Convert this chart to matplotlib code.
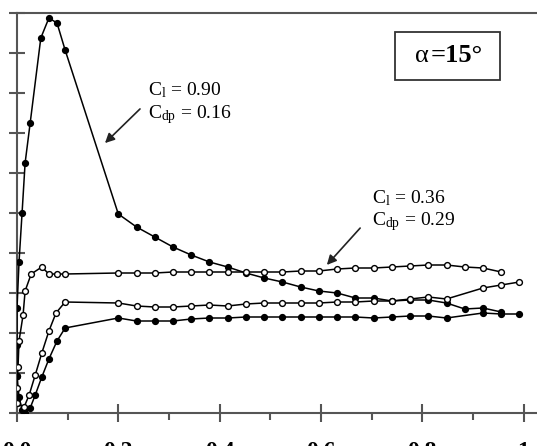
import matplotlib
matplotlib.use("Agg")
import matplotlib.pyplot as plt
from matplotlib.patches import Rectangle

# ---- data (x/c, suction value in tick units) ----
up090_x = [0.0, 0.0, 0.0, 0.004, 0.010, 0.016, 0.026, 0.047, 0.063, 0.079, 0.095,
           0.200, 0.236, 0.272, 0.308, 0.344, 0.380, 0.416, 0.452, 0.488, 0.524,
           0.560, 0.596, 0.632, 0.668, 0.704, 0.740, 0.776, 0.812, 0.848, 0.884,
           0.920, 0.956]
up090_y = [0.925, 1.70, 2.625, 3.775, 5.00, 6.25, 7.25, 9.375, 9.875, 9.75, 9.075,
           4.975, 4.65, 4.40, 4.15, 3.95, 3.775, 3.65, 3.50, 3.375, 3.275,
           3.15, 3.05, 3.00, 2.875, 2.875, 2.80, 2.825, 2.825, 2.75, 2.60,
           2.625, 2.525]

lo090_x = [0.0, 0.004, 0.010, 0.016, 0.026, 0.036, 0.049, 0.063, 0.079, 0.095,
           0.200, 0.236, 0.272, 0.308, 0.344, 0.380, 0.416, 0.452, 0.488, 0.524,
           0.560, 0.596, 0.632, 0.668, 0.704, 0.740, 0.776, 0.812, 0.848,
           0.920, 0.956, 0.992]
lo090_y = [0.925, 0.40, 0.075, 0.0, 0.125, 0.45, 0.90, 1.35, 1.80, 2.125,
           2.375, 2.30, 2.30, 2.30, 2.35, 2.375, 2.375, 2.40, 2.40, 2.40,
           2.40, 2.40, 2.40, 2.40, 2.375, 2.40, 2.425, 2.425, 2.375,
           2.50, 2.475, 2.475]

up036_x = [0.0, 0.0, 0.002, 0.004, 0.012, 0.016, 0.028, 0.049, 0.063, 0.079, 0.095,
           0.200, 0.236, 0.272, 0.308, 0.344, 0.380, 0.416, 0.452, 0.488, 0.524,
           0.560, 0.596, 0.632, 0.668, 0.704, 0.740, 0.776, 0.812, 0.848, 0.884,
           0.920, 0.956]
up036_y = [0.25, 0.625, 1.15, 1.80, 2.45, 3.05, 3.475, 3.65, 3.475, 3.475, 3.475,
           3.50, 3.50, 3.50, 3.525, 3.525, 3.525, 3.525, 3.525, 3.525, 3.525,
           3.55, 3.55, 3.60, 3.625, 3.625, 3.65, 3.675, 3.70, 3.70, 3.65,
           3.625, 3.525]

lo036_x = [0.0, 0.014, 0.024, 0.036, 0.049, 0.063, 0.077, 0.095,
           0.200, 0.236, 0.272, 0.308, 0.344, 0.380, 0.416, 0.452, 0.488, 0.524,
           0.560, 0.596, 0.632, 0.668, 0.704, 0.740, 0.776, 0.812, 0.848,
           0.920, 0.956, 0.992]
lo036_y = [0.25, 0.15, 0.45, 0.95, 1.50, 2.05, 2.50, 2.775,
           2.75, 2.675, 2.65, 2.65, 2.675, 2.70, 2.675, 2.725, 2.75, 2.75,
           2.75, 2.75, 2.775, 2.775, 2.80, 2.80, 2.85, 2.90, 2.85,
           3.125, 3.20, 3.275]

x_ticks = [0.0, 0.2, 0.4, 0.6, 0.8, 1.0]
x_labels = ["0.0", "0.2", "0.4", "0.6", "0.8", "1"]
x_minor = [0.1, 0.3, 0.5, 0.7, 0.9]
y_ticks = list(range(0, 11))

plt.rcParams['font.family'] = ['Liberation Serif', 'DejaVu Serif']
plt.rcParams['mathtext.fontset'] = 'custom'
plt.rcParams['mathtext.rm'] = 'Liberation Serif'
plt.rcParams['mathtext.it'] = 'Liberation Serif:italic'
plt.rcParams['mathtext.bf'] = 'Liberation Serif:bold'

fig = plt.figure(figsize=(5.37, 4.46), dpi=100)
ax = fig.add_axes([17 / 537, 33 / 446, 1 - 17 / 537, 400 / 446])
PX = 506.5  # pixels per unit x
ax.set_xlim(0, 520 / PX)
ax.set_ylim(0, 10)

lw = 1.1
ms = 4.2
ax.plot(up090_x, up090_y, '-o', color='black', lw=lw, ms=ms, mfc='black', mec='black', zorder=3)
ax.plot(lo090_x, lo090_y, '-o', color='black', lw=lw, ms=ms, mfc='black', mec='black', zorder=3)
ax.plot(up036_x, up036_y, '-o', color='black', lw=lw, ms=ms, mfc='white', mec='black', mew=1.0, zorder=4)
ax.plot(lo036_x, lo036_y, '-o', color='black', lw=lw, ms=ms, mfc='white', mec='black', mew=1.0, zorder=4)

spc = '#555555'
for s in ['top', 'left', 'bottom']:
    ax.spines[s].set_color(spc)
    ax.spines[s].set_linewidth(1.5)
ax.spines['right'].set_visible(False)

ax.set_yticks(y_ticks)
ax.tick_params(axis='y', which='major', direction='inout', length=12.2, width=1.5,
               color=spc, labelleft=False)
ax.set_xticks(x_ticks)
ax.set_xticklabels(x_labels, fontsize=17, fontweight='bold')
ax.set_xticks(x_minor, minor=True)
ax.tick_params(axis='x', which='major', direction='inout', length=13, width=1.5,
               color=spc, pad=14)
ax.tick_params(axis='x', which='minor', direction='out', length=5, width=1.5, color=spc)

# annotations
ax.annotate('', xy=(86 / PX, (413 - 145) / 40), xytext=(125 / PX, (413 - 107) / 40),
            arrowprops=dict(arrowstyle='-|>', color='#222222', lw=1.2, mutation_scale=14))
ax.text(131 / PX, (413 - 90) / 40, r'C$_{\mathrm{l}}$ = 0.90', fontsize=14, va='center', ha='left')
ax.text(131 / PX, (413 - 115) / 40, r'C$_{\mathrm{dp}}$ = 0.16', fontsize=14, va='center', ha='left')

ax.annotate('', xy=(308 / PX, (413 - 267) / 40), xytext=(345 / PX, (413 - 226) / 40),
            arrowprops=dict(arrowstyle='-|>', color='#222222', lw=1.2, mutation_scale=14))
ax.text(355 / PX, (413 - 198) / 40, r'C$_{\mathrm{l}}$ = 0.36', fontsize=14, va='center', ha='left')
ax.text(355 / PX, (413 - 222) / 40, r'C$_{\mathrm{dp}}$ = 0.29', fontsize=14, va='center', ha='left')

# alpha box
ax.add_patch(Rectangle((378 / PX, (413 - 80) / 40), 105 / PX, 48 / 40,
                       fc='white', ec='#333333', lw=1.3, zorder=5))
ax.text(412 / PX, (413 - 56) / 40, 'α', fontsize=19, va='center', ha='right', zorder=6)
ax.text(414 / PX, (413 - 56) / 40, '=15°', fontsize=19, fontweight='bold',
        va='center', ha='left', zorder=6)

fig.savefig('out.png', dpi=100)
